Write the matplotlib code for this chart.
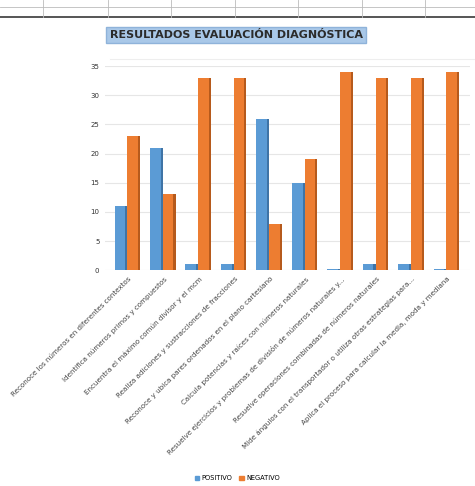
import numpy as np
import matplotlib.pyplot as plt
from matplotlib.lines import Line2D

plt.rcParams['font.family'] = ['DejaVu Sans']

categorias = [
    'Reconoce los números en diferentes contextos',
    'Identifica números primos y compuestos',
    'Encuentra el máximo común divisor y el mcm',
    'Realiza adiciones y sustracciones de fracciones',
    'Reconoce y ubica pares ordenados en el plano cartesiano',
    'Calcula potencias y raíces con números naturales',
    'Resuelve ejercicios y problemas de división de números naturales y...',
    'Resuelve operaciones combinadas de números naturales',
    'Mide ángulos con el transportador o utiliza otras estrategias para...',
    'Aplica el proceso para calcular la media, moda y mediana',
]
positivo = [11, 21, 1, 1, 26, 15, 0.2, 1, 1, 0.2]
negativo = [23, 13, 33, 33, 8, 19, 34, 33, 33, 34]
yticks = [0, 5, 10, 15, 20, 25, 30, 35]

azul, azul_osc = '#5B9BD5', '#3F74A6'
naranja, naranja_osc = '#ED7D31', '#B65A1C'

fig = plt.figure(figsize=(4.75, 4.86), dpi=100)
ax = fig.add_axes([0.221, 0.444, 0.769, 0.42])

x = np.arange(len(categorias))
w = 0.3
s = 0.06
# cara frontal + lateral oscura (imitando el 3D de Excel)
ax.bar(x - w / 2 - s / 2, positivo, w, color=azul, zorder=3)
ax.bar(x, positivo, s, color=azul_osc, zorder=3)
ax.bar(x + w / 2 + s / 2, negativo, w, color=naranja, zorder=3)
ax.bar(x + w + s, negativo, s, color=naranja_osc, zorder=3)

ax.set_xlim(-0.6, 9.7)
ax.set_ylim(0, 35)
ax.set_yticks(yticks)
ax.set_yticklabels([str(v) for v in yticks], fontsize=5, color='#333333')
ax.set_xticks(x + 0.05)
ax.set_xticklabels(categorias, rotation=45, ha='right', rotation_mode='anchor',
                   fontsize=5.1, color='#444444')
ax.tick_params(length=0, pad=4)
ax.grid(axis='y', color='#e6e6e6', linewidth=0.8, zorder=0)
for sp in ax.spines.values():
    sp.set_visible(False)

# título con fondo azul
fig.text(0.497, 0.928, 'RESULTADOS EVALUACIÓN DIAGNÓSTICA', ha='center', va='center',
         fontsize=8, color='#2b2b2b', fontweight='semibold',
         bbox=dict(boxstyle='square,pad=0.3', facecolor='#A9C8E8', edgecolor='#8FB3DA'))

# leyenda
handles = [plt.Rectangle((0, 0), 1, 1, color=azul), plt.Rectangle((0, 0), 1, 1, color=naranja)]
fig.legend(handles, ['POSITIVO', 'NEGATIVO'], loc='center', bbox_to_anchor=(0.5, 0.016),
           ncol=2, frameon=False, fontsize=4.8, handlelength=0.7, handleheight=0.7,
           columnspacing=1.0, handletextpad=0.4)

# cuadrícula de la hoja de cálculo arriba
H = 486
for yy, lw, c in [(7, 0.6, '#bbbbbb'), (17, 1.4, '#555555')]:
    fig.add_artist(Line2D([0, 1], [1 - yy / H, 1 - yy / H], color=c, linewidth=lw))
for xx in [43, 108, 171, 235, 298, 362, 425]:
    fig.add_artist(Line2D([xx / 475, xx / 475], [1, 1 - 17 / H], color='#bbbbbb', linewidth=0.6))
fig.add_artist(Line2D([110 / 475, 1], [1 - 59 / H, 1 - 59 / H], color='#eeeeee', linewidth=0.8))

fig.savefig('out.png', dpi=100)
